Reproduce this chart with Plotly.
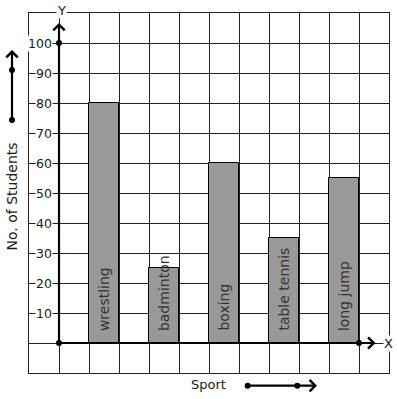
import plotly.graph_objects as go

sports = ["wrestling", "badminton", "boxing", "table tennis", "long jump"]
students = [80, 25, 60, 35, 55]
y_ticks = [10, 20, 30, 40, 50, 60, 70, 80, 90, 100]

FONT = "DejaVu Sans"
INK = "#1a1a1a"

# bar positions: each bar occupies one grid cell, separated by an empty cell
bar_x = [2 * i + 1.5 for i in range(len(sports))]

fig = go.Figure()
fig.add_trace(go.Bar(
    x=bar_x, y=students, width=1,
    marker=dict(color="#999999", line=dict(color="#000000", width=1)),
    hoverinfo="skip", showlegend=False,
))

# decorative dots on the axes
fig.add_trace(go.Scatter(
    x=[0, 0, 10], y=[0, 100, 0], mode="markers", cliponaxis=False,
    marker=dict(color="#000000", size=6), hoverinfo="skip", showlegend=False,
))

ann = []
arrow_common = dict(text="", showarrow=True, arrowhead=4, arrowsize=1, arrowwidth=2.2,
                    arrowcolor="#000000", standoff=0, startstandoff=0)
# main axes arrows (data coords)
ann.append(dict(x=0, y=106.7, ax=0, ay=0, xref="x", yref="y", axref="x", ayref="y", **arrow_common))
ann.append(dict(x=10.55, y=0, ax=0, ay=0, xref="x", yref="y", axref="x", ayref="y", **arrow_common))
# helper arrows outside the grid (paper coords, pixel tails)
ann.append(dict(x=-0.0472, y=0.8972, ax=0, ay=70, xref="paper", yref="paper", **arrow_common))
ann.append(dict(x=0.80, y=-0.0353, ax=-69.3, ay=0, xref="paper", yref="paper", **arrow_common))

# y tick labels on white background
for v in y_ticks:
    ann.append(dict(x=-0.2, y=v, xref="x", yref="y", text=str(v), showarrow=False,
                    xanchor="right", yanchor="middle", bgcolor="white", borderpad=0,
                    font=dict(family=FONT, size=12.5, color=INK)))

# bar labels
for xi, name in zip(bar_x, sports):
    ann.append(dict(x=xi, y=3.3, xref="x", yref="y", text=name, showarrow=False,
                    textangle=-90, xanchor="center", yanchor="bottom",
                    font=dict(family=FONT, size=14, color="#333333")))

# axis letters
ann.append(dict(x=0.0889, y=1.0083, xref="paper", yref="paper", text="Y", showarrow=False,
                xanchor="center", yanchor="middle",
                bgcolor="white", borderpad=0, font=dict(family=FONT, size=13, color=INK)))
ann.append(dict(x=10.97, y=0, xref="x", yref="y", text="X", showarrow=False,
                xanchor="center", yanchor="middle",
                bgcolor="white", borderpad=0, font=dict(family=FONT, size=13, color=INK)))

# axis titles
ann.append(dict(x=-0.0472, y=0.4903, xref="paper", yref="paper", text="No. of Students",
                showarrow=False, textangle=-90, xanchor="center", yanchor="middle",
                font=dict(family=FONT, size=14, color=INK)))
ann.append(dict(x=0.4986, y=-0.0333, xref="paper", yref="paper", text="Sport",
                showarrow=False, xanchor="center", yanchor="middle",
                font=dict(family=FONT, size=13, color=INK)))

# helper-arrow dots (paper coords, pixel size)
shapes = []
for px, py in [(-0.0472, 0.8417), (-0.0472, 0.7028), (0.6075, -0.0353), (0.7453, -0.0353)]:
    shapes.append(dict(type="circle", xref="paper", yref="paper",
                       xsizemode="pixel", ysizemode="pixel", xanchor=px, yanchor=py,
                       x0=-3, x1=3, y0=-3, y1=3, fillcolor="#000000", line=dict(width=0)))

axis_common = dict(showgrid=True, gridcolor="#222222", gridwidth=1, zeroline=False,
                   showticklabels=False, ticks="", showline=True, mirror=True,
                   linecolor="#222222", linewidth=1, fixedrange=True)

fig.update_layout(
    width=397, height=399,
    margin=dict(l=29, r=8, t=13, b=26, pad=0),
    paper_bgcolor="white", plot_bgcolor="white",
    xaxis=dict(range=[-1, 11], dtick=1, tick0=0, **axis_common),
    yaxis=dict(range=[-10, 110], dtick=10, tick0=0, **axis_common),
    annotations=ann,
    shapes=shapes,
    showlegend=False,
    bargap=0,
)

fig.write_html("out.html", config={"displayModeBar": False},
               post_script="document.body.style.margin='0';")
